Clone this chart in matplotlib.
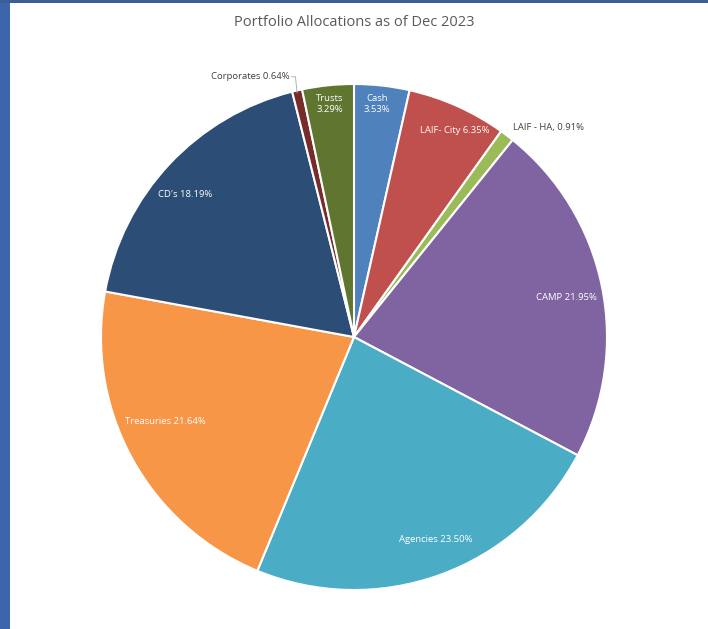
import numpy as np
import matplotlib
matplotlib.use("Agg")
import matplotlib.pyplot as plt
from matplotlib.patches import Rectangle

plt.rcParams['font.family'] = ['Open Sans', 'DejaVu Sans']

categories = ["Cash", "LAIF- City", "LAIF - HA", "CAMP", "Agencies",
              "Treasuries", "CD's", "Corporates", "Trusts"]
values = [3.53, 6.35, 0.91, 21.95, 23.50, 21.64, 18.19, 0.64, 3.29]
colors = ["#4F81BD", "#C0504D", "#9BBB59", "#8064A2", "#4BACC6",
          "#F79646", "#2C4D75", "#772C2A", "#5F7530"]
label_texts = ["Cash\n3.53%", "LAIF- City 6.35%", "LAIF - HA, 0.91%", "CAMP 21.95%",
               "Agencies 23.50%", "Treasuries 21.64%", "CD's 18.19%",
               "Corporates 0.64%", "Trusts\n3.29%"]
title = "Portfolio Allocations as of Dec 2023"

W, H = 708, 629
fig = plt.figure(figsize=(W / 100, H / 100), dpi=100)
fig.patch.set_facecolor("white")

# border strips
fig.add_artist(Rectangle((0, 0), 10 / W, 1, transform=fig.transFigure,
                         facecolor="#3C65AA", edgecolor="none", zorder=0))
fig.add_artist(Rectangle((0, 1 - 2.5 / H), 1, 2.5 / H, transform=fig.transFigure,
                         facecolor="#3B5E9B", edgecolor="none", zorder=0))

cx, cy, R = 354, 337, 253
ax = fig.add_axes([(cx - R) / W, 1 - (cy + R) / H, 2 * R / W, 2 * R / H])
wedges, _ = ax.pie(values, colors=colors, startangle=90, counterclock=False,
                   radius=1.0, wedgeprops=dict(edgecolor="white", linewidth=1.5))
ax.set_xlim(-1, 1)
ax.set_ylim(-1, 1)
ax.set_aspect("equal")
ax.axis("off")
for w in wedges:
    w.set_clip_on(False)

# (radius fraction, angle offset in degrees) for inside labels
label_pos = {"Cash": (0.925, 0.8), "LAIF- City": (0.907, -2.0), "CAMP": (0.852, -1.2),
             "Agencies": (0.865, 2.2), "Treasuries": (0.819, -4.4),
             "CD's": (0.875, 2.9), "Trusts": (0.926, 0.0)}
fs = 6.8
for w, cat, txt in zip(wedges, categories, label_texts):
    mid = (w.theta1 + w.theta2) / 2
    if cat in label_pos:
        r, off = label_pos[cat]
        ang = np.deg2rad(mid + off)
        ax.text(r * np.cos(ang), r * np.sin(ang), txt, ha="center", va="center",
                fontsize=fs, color="white", linespacing=1.3)
    elif cat == "LAIF - HA":
        ang = np.deg2rad(mid)
        r = 1.04
        ax.text(r * np.cos(ang), r * np.sin(ang), txt, ha="left", va="center",
                fontsize=fs, color="#404040")
    elif cat == "Corporates":
        ang = np.deg2rad(mid)
        ex, ey = np.cos(ang), np.sin(ang)
        tx, ty = 1.06 * np.cos(np.deg2rad(mid + 1)), 1.06 * np.sin(np.deg2rad(mid + 1))
        ax.plot([tx + 0.01, tx + 0.025, ex], [ty, ty, ey - 0.01],
                color="#A6A6A6", lw=0.6, clip_on=False)
        ax.text(tx, ty, txt, ha="right", va="center", fontsize=fs, color="#404040")

fig.text(0.5, 1 - 23 / H, title, ha="center", va="center", fontsize=10.5, color="#595959")

fig.savefig("out.png", dpi=100)
